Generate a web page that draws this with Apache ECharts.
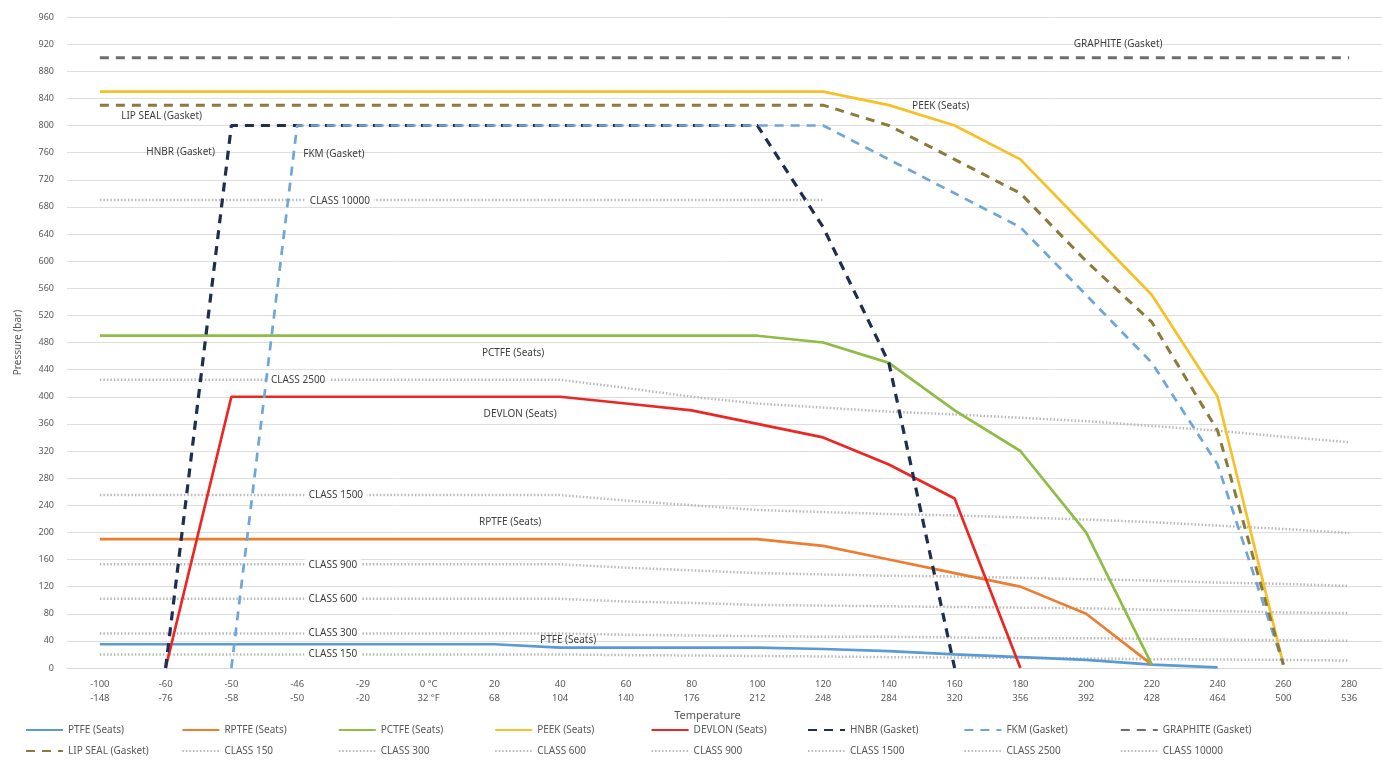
<!DOCTYPE html>
<html>
<head>
<meta charset="utf-8">
<script src="https://cdn.jsdelivr.net/npm/echarts@6/dist/echarts.min.js"></script>
<style>
  html, body { margin: 0; padding: 0; background: #fff; }
  #chart { width: 1382px; height: 760px; }
</style>
</head>
<body>
<div id="chart"></div>
<script>
// temperature categories (°C over °F)
const tempC = ['-100', '-60', '-50', '-46', '-29', '0 °C', '20', '40', '60', '80', '100', '120', '140', '160', '180', '200', '220', '240', '260', '280'];
const tempF = ['-148', '-76', '-58', '-50', '-20', '32 °F', '68', '104', '140', '176', '212', '248', '284', '320', '356', '392', '428', '464', '500', '536'];

// seats
const ptfe   = [35, 35, 35, 35, 35, 35, 35, 30, 30, 30, 30, 28, 25, 20, 16, 12, 5, 1, null, null];
const rptfe  = [190, 190, 190, 190, 190, 190, 190, 190, 190, 190, 190, 180, 160, 140, 120, 80, 5, null, null, null];
const pctfe  = [490, 490, 490, 490, 490, 490, 490, 490, 490, 490, 490, 480, 450, 380, 320, 200, 5, null, null, null];
const peek   = [850, 850, 850, 850, 850, 850, 850, 850, 850, 850, 850, 850, 830, 800, 750, 650, 550, 400, 5, null];
const devlon = [null, 0, 400, 400, 400, 400, 400, 400, 390, 380, 360, 340, 300, 250, 0, null, null, null, null, null];

// gaskets
const hnbr     = [null, 0, 800, 800, 800, 800, 800, 800, 800, 800, 800, 650, 450, 0, null, null, null, null, null, null];
const fkm      = [null, null, 0, 800, 800, 800, 800, 800, 800, 800, 800, 800, 750, 700, 650, 550, 450, 300, 5, null];
const graphite = [900, 900, 900, 900, 900, 900, 900, 900, 900, 900, 900, 900, 900, 900, 900, 900, 900, 900, 900, 900];
const lipSeal  = [830, 830, 830, 830, 830, 830, 830, 830, 830, 830, 830, 830, 800, 750, 700, 600, 510, 350, 5, null];

// pressure classes
const class150   = [20, 20, 20, 20, 20, 20, 20, 20, 19, 18.5, 17.7, 17, 16, 15.5, 15, 14, 13, 12.5, 12, 11];
const class300   = [51, 51, 51, 51, 51, 51, 51, 51, 49, 48, 47, 46, 46, 45, 44, 44, 43, 42, 41, 40];
const class600   = [102, 102, 102, 102, 102, 102, 102, 102, 98, 96, 93, 92, 91, 90, 89, 88, 86, 84, 82, 81];
const class900   = [153, 153, 153, 153, 153, 153, 153, 153, 148, 144, 140, 138, 136, 135, 133, 131, 129, 126, 124, 121];
const class1500  = [255, 255, 255, 255, 255, 255, 255, 255, 247, 240, 233, 230, 227, 225, 222, 219, 215, 210, 205, 199];
const class2500  = [425, 425, 425, 425, 425, 425, 425, 425, 413, 400, 390, 384, 378, 374, 369, 364, 357, 350, 341, 333];
const class10000 = [690, 690, 690, 690, 690, 690, 690, 690, 690, 690, 690, 690, null, null, null, null, null, null, null, null];

const yTicks = { min: 0, max: 960, interval: 40 };

const legendRow1 = ['PTFE (Seats)', 'RPTFE (Seats)', 'PCTFE (Seats)', 'PEEK (Seats)', 'DEVLON (Seats)', 'HNBR (Gasket)', 'FKM (Gasket)', 'GRAPHITE (Gasket)'];
const legendRow2 = ['LIP SEAL (Gasket)', 'CLASS 150', 'CLASS 300', 'CLASS 600', 'CLASS 900', 'CLASS 1500', 'CLASS 2500', 'CLASS 10000'];

const categories = tempC.map((c, i) => c + '\n' + tempF[i]);
const font = 'Noto Sans';
const textGray = '#595959';

function tag(text, idx, val, offset, boxed) {
    return {
        symbol: 'circle',
        symbolSize: 1,
        itemStyle: { color: 'rgba(0,0,0,0)' },
        data: [{
            coord: [idx, val],
            label: {
                show: true,
                formatter: text,
                position: 'inside',
                offset: offset,
                color: '#3f3f3f',
                fontSize: 10,
                fontFamily: font,
                backgroundColor: boxed ? '#fff' : 'transparent',
                padding: boxed ? [1, 4] : 0
            }
        }]
    };
}

function line(name, data, color, width, type, mark, z) {
    return {
        name: name,
        type: 'line',
        data: data,
        symbol: 'none',
        connectNulls: false,
        lineStyle: { color: color, width: width, type: type },
        itemStyle: { color: color },
        z: z || 2,
        markPoint: mark
    };
}

// one legend per item so the columns line up like the original
function legends() {
    const out = [];
    [legendRow1, legendRow2].forEach((row, r) => {
        row.forEach((name, c) => {
            out.push({
                left: 20 + c * 156.4,
                top: 720 + r * 21,
                itemWidth: 37,
                itemHeight: 10,
                itemStyle: { opacity: 0 },
                textStyle: { color: textGray, fontSize: 10, fontFamily: font },
                data: [name]
            });
        });
    });
    return out;
}

const dash = [9, 7];
const dot = [1.5, 2];
const classColor = '#b9b9b9';

const myChart = echarts.init(document.getElementById('chart'));

const option = {
    animation: false,
    backgroundColor: '#fff',
    grid: { left: 67, top: 17, width: 1318, bottom: 92 },
    legend: legends(),
    xAxis: {
        type: 'category',
        data: categories,
        boundaryGap: true,
        name: 'Temperature',
        nameLocation: 'middle',
        nameGap: 38,
        nameTextStyle: { color: textGray, fontSize: 11, fontFamily: font, padding: [0, 34, 0, 0] },
        axisLine: { lineStyle: { color: '#d9d9d9' } },
        axisTick: { show: false },
        axisLabel: { color: textGray, fontSize: 9.5, fontFamily: font, lineHeight: 14, margin: 9, interval: 0 },
        splitLine: { show: false }
    },
    yAxis: {
        type: 'value',
        min: yTicks.min,
        max: yTicks.max,
        interval: yTicks.interval,
        name: 'Pressure (bar)',
        nameLocation: 'middle',
        nameGap: 44,
        nameTextStyle: { color: textGray, fontSize: 10, fontFamily: font },
        axisLine: { show: false },
        axisTick: { show: false },
        axisLabel: { color: textGray, fontSize: 9, fontFamily: font, margin: 13 },
        splitLine: { lineStyle: { color: '#dedede', width: 1 } }
    },
    series: [
        line('PTFE (Seats)', ptfe, '#5b9bd5', 2.7, 'solid', tag('PTFE (Seats)', 7, 30, [8, -8]), 4),
        line('RPTFE (Seats)', rptfe, '#ed7d31', 2.7, 'solid', tag('RPTFE (Seats)', 7, 190, [-50, -17]), 4),
        line('PCTFE (Seats)', pctfe, '#8fbc45', 2.7, 'solid', tag('PCTFE (Seats)', 7, 490, [-47, 17]), 4),
        line('PEEK (Seats)', peek, '#f5c127', 2.7, 'solid', tag('PEEK (Seats)', 13, 800, [-14, -19]), 4),
        line('DEVLON (Seats)', devlon, '#ec2723', 2.7, 'solid', tag('DEVLON (Seats)', 7, 400, [-40, 17]), 4),
        line('HNBR (Gasket)', hnbr, '#1f2d4e', 3.2, dash, tag('HNBR (Gasket)', 1, 800, [15, 27]), 5),
        line('FKM (Gasket)', fkm, '#6ea6d8', 2.7, dash, tag('FKM (Gasket)', 4, 800, [-29, 29]), 5),
        line('GRAPHITE (Gasket)', graphite, '#6e6e6e', 3, dash, tag('GRAPHITE (Gasket)', 15, 900, [32, -14]), 5),
        line('LIP SEAL (Gasket)', lipSeal, '#8c7a3a', 3, dash, tag('LIP SEAL (Gasket)', 1, 830, [-4, 11]), 5),
        line('CLASS 150', class150, classColor, 2.5, dot, tag('CLASS 150', 4, 20, [-30, 0], true), 3),
        line('CLASS 300', class300, classColor, 2.5, dot, tag('CLASS 300', 4, 51, [-30, 0], true), 3),
        line('CLASS 600', class600, classColor, 2.5, dot, tag('CLASS 600', 4, 102, [-30, 0], true), 3),
        line('CLASS 900', class900, classColor, 2.5, dot, tag('CLASS 900', 4, 153, [-30, 1], true), 3),
        line('CLASS 1500', class1500, classColor, 2.5, dot, tag('CLASS 1500', 4, 255, [-27, 0], true), 3),
        line('CLASS 2500', class2500, classColor, 2.5, dot, tag('CLASS 2500', 3, 425, [1, 0], true), 3),
        line('CLASS 10000', class10000, classColor, 2.5, dot, tag('CLASS 10000', 4, 690, [-23, 1], true), 3)
    ]
};

myChart.setOption(option);
window.addEventListener('resize', () => myChart.resize());
</script>
</body>
</html>
